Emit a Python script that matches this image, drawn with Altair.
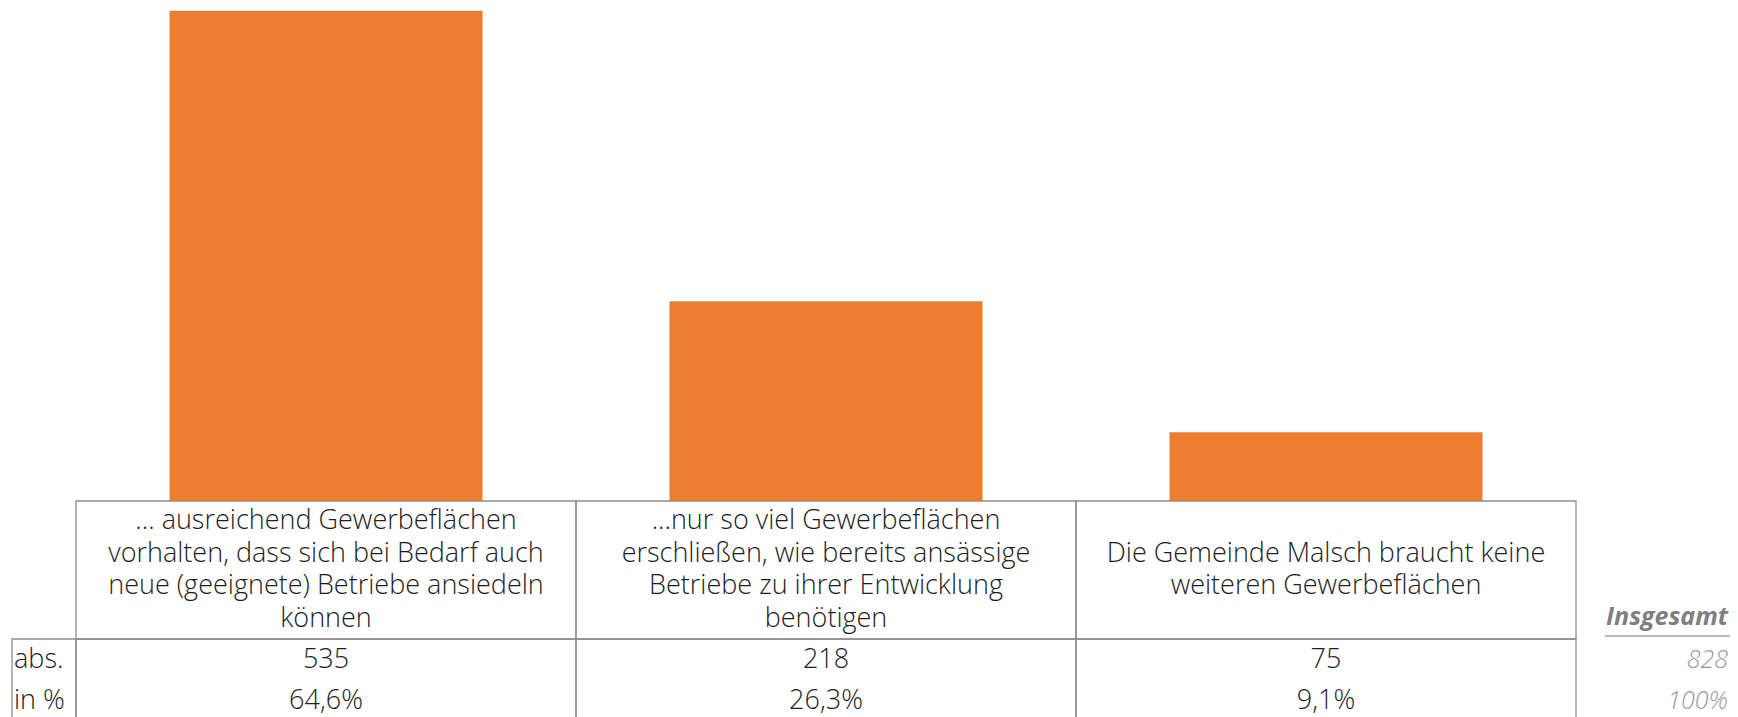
import altair as alt
import pandas as pd

# ---- data ----
keys = ["A", "B", "C"]
labels = [
    "... ausreichend Gewerbeflächen\nvorhalten, dass sich bei Bedarf auch\nneue (geeignete) Betriebe ansiedeln\nkönnen",
    "...nur so viel Gewerbeflächen\nerschließen, wie bereits ansässige\nBetriebe zu ihrer Entwicklung\nbenötigen",
    "Die Gemeinde Malsch braucht keine\nweiteren Gewerbeflächen",
]
counts = [535, 218, 75]
percents = ["64,6%", "26,3%", "9,1%"]
row_labels = ["abs.", "in %"]
total_title = "Insgesamt"
total_values = ["828", "100%"]

df = pd.DataFrame({"key": keys, "label": labels, "count": counts, "pct": percents})

FONT = "Open Sans"
FW = 300
FS = 27
TXT = "#1e1e1e"
LINE = "#8f8f8f"
LH = 32.5

W, H = 1500, 493

x = alt.X("key:N", sort=keys, axis=None,
          scale=alt.Scale(paddingInner=0, paddingOuter=0))
y = alt.Y("count:Q", axis=None, scale=alt.Scale(domain=[0, 538], nice=False))

base = alt.Chart(df).encode(x=x)

bars = base.mark_bar(color="#ED7D31", width=alt.RelativeBandSize(0.626)).encode(y=y)

head_cells = base.mark_rect(fillOpacity=0, stroke=LINE, strokeWidth=1.3, clip=False).encode(
    y=alt.value(H), y2=alt.value(631))
row_cells = base.mark_rect(fillOpacity=0, stroke=LINE, strokeWidth=1.3, clip=False).encode(
    y=alt.value(631), y2=alt.value(740))

head_text = base.transform_calculate(
    ypos=f"562 - (length(split(datum.label, '\\n')) - 1) * {LH / 2}"
).mark_text(lineBreak="\n", lineHeight=LH, fontSize=FS, font=FONT, fontWeight=FW,
            color=TXT, baseline="middle", clip=False).encode(
    text="label:N", y=alt.Y("ypos:Q", scale=None))
abs_text = base.mark_text(fontSize=FS, font=FONT, fontWeight=FW, color=TXT, baseline="middle",
                          clip=False).encode(text="count:Q", y=alt.value(652))
pct_text = base.mark_text(fontSize=FS, font=FONT, fontWeight=FW, color=TXT, baseline="middle",
                          clip=False).encode(text="pct:N", y=alt.value(693))

one = pd.DataFrame({"a": [0]})
label_cell = alt.Chart(one).mark_rect(fillOpacity=0, stroke=LINE, strokeWidth=1.3, clip=False).encode(
    x=alt.value(-64), x2=alt.value(0), y=alt.value(631), y2=alt.value(740))

abs_label = alt.Chart(pd.DataFrame({"t": [row_labels[0]]})).mark_text(
    align="left", baseline="middle", fontSize=FS, font=FONT, fontWeight=FW,
    color=TXT, clip=False).encode(text="t:N", x=alt.value(-62), y=alt.value(652))
pct_label = alt.Chart(pd.DataFrame({"t": [row_labels[1]]})).mark_text(
    align="left", baseline="middle", fontSize=FS, font=FONT, fontWeight=FW,
    color=TXT, clip=False).encode(text="t:N", x=alt.value(-62), y=alt.value(693))

tot_title = alt.Chart(pd.DataFrame({"t": [total_title]})).mark_text(
    align="right", baseline="middle", fontSize=25, font=FONT, fontStyle="italic",
    fontWeight="bold", color="#7f7f7f", clip=False).encode(
    text="t:N", x=alt.value(1652), y=alt.value(609))
tot_rule = alt.Chart(one).mark_rule(color="#a6a6a6", strokeWidth=1.5, clip=False).encode(
    x=alt.value(1529), x2=alt.value(1714), y=alt.value(628))
tot_abs = alt.Chart(pd.DataFrame({"t": [total_values[0]]})).mark_text(
    align="right", baseline="middle", fontSize=25, font=FONT, fontStyle="italic",
    fontWeight=FW, color="#9a9a9a", clip=False).encode(
    text="t:N", x=alt.value(1652), y=alt.value(652))
tot_pct = alt.Chart(pd.DataFrame({"t": [total_values[1]]})).mark_text(
    align="right", baseline="middle", fontSize=25, font=FONT, fontStyle="italic",
    fontWeight=FW, color="#9a9a9a", clip=False).encode(
    text="t:N", x=alt.value(1652), y=alt.value(693))

chart = alt.layer(
    bars, head_cells, row_cells, head_text, abs_text, pct_text,
    label_cell, abs_label, pct_label, tot_title, tot_rule, tot_abs, tot_pct,
).properties(
    width=W, height=H,
    autosize=alt.AutoSizeParams(type="none"),
    padding={"left": 68, "top": 0, "right": 154, "bottom": 216},
).configure_view(stroke=None)

chart.save("out.html", embed_options={"renderer": "svg", "actions": False})
